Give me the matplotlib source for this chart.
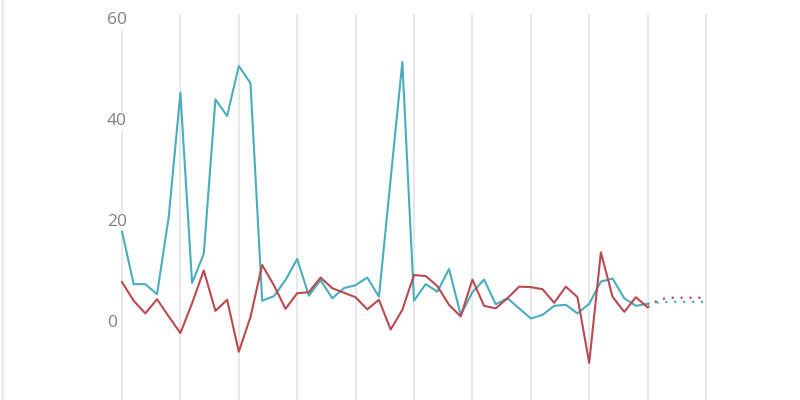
import numpy as np
import matplotlib.pyplot as plt
from matplotlib.lines import Line2D

# values per period
teal = [18.1, 7.7, 7.7, 5.7, 21.0, 45.6, 7.9, 13.7, 44.3, 41.0,
        50.9, 47.5, 4.4, 5.3, 8.5, 12.7, 5.4, 8.5, 4.9, 6.9,
        7.5, 9.0, 5.2, 28.5, 51.7, 4.4, 7.7, 6.2, 10.7, 1.6,
        6.1, 8.6, 3.7, 4.9, 2.9, 0.9, 1.6, 3.4, 3.6, 1.9,
        3.8, 8.2, 8.8, 4.9, 3.4, 3.8]
red = [8.1, 4.4, 1.9, 4.7, 1.3, -2.0, 3.9, 10.4, 2.4, 4.6,
       -5.7, 1.2, 11.5, 7.5, 2.8, 5.9, 6.1, 9.0, 6.9, 6.0,
       5.1, 2.7, 4.6, -1.3, 2.6, 9.5, 9.3, 7.3, 3.6, 1.3,
       8.6, 3.4, 2.9, 4.9, 7.2, 7.1, 6.7, 4.0, 7.2, 5.1,
       -7.9, 14.0, 5.2, 2.2, 5.1, 3.1]
# projected tail (dotted)
teal_proj = [3.8, 4.1, 4.2, 4.2, 4.2, 4.2]
red_proj = [3.1, 4.7, 5.0, 5.0, 5.0, 5.0]

yticks = [0, 20, 40, 60]
xgrid = list(range(0, 51, 5))

TEAL = "#4aadbd"
RED = "#b84a52"

x = np.arange(len(teal))
xp = np.arange(len(teal) - 1, len(teal) - 1 + len(teal_proj))

# one period is ~11.68 px; leave half a period either side of the grid
step = (706 - 122) / 50
left = 122 - step / 2
fig = plt.figure(figsize=(8, 4), dpi=100)
ax = fig.add_axes([left / 800, 0, 51 * step / 800, 386 / 400])

ax.plot(x, teal, color=TEAL, lw=1.5, zorder=3)
ax.plot(x, red, color=RED, lw=1.5, zorder=3)
ax.plot(xp, red_proj, color=RED, lw=1.6, ls=(0, (1, 3)), zorder=3)
ax.plot(xp, teal_proj, color=TEAL, lw=1.6, ls=(0, (1, 3)), zorder=3)

ax.set_xlim(-0.5, 50.5)
ax.set_ylim(-15.25, 61.2)
ax.set_xticks(xgrid)
ax.set_yticks([])
ax.tick_params(axis="x", length=0, labelbottom=False)
ax.grid(axis="x", color="#e4e4e4", lw=1.2)
ax.set_axisbelow(True)
for s in ax.spines.values():
    s.set_visible(False)

for v in yticks:
    ax.text(-1.3, v, str(v), ha="left", va="center", fontsize=12.5,
            family="Open Sans", color="#808080", clip_on=False, zorder=2,
            bbox=dict(facecolor="white", edgecolor="none", pad=1))

fig.add_artist(Line2D([2 / 800, 2 / 800], [0, 1], color="#ebebeb", lw=2,
                      transform=fig.transFigure))

plt.savefig("out.png", dpi=100)
